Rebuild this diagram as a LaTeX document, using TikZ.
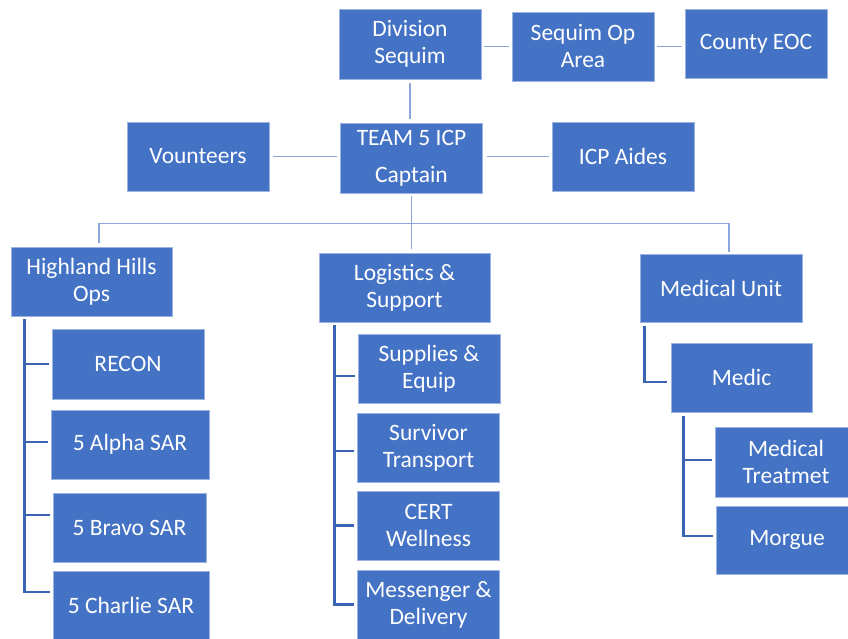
\documentclass[tikz,border=0pt]{standalone}
\usepackage{fontspec}
\setmainfont{Carlito}
\usepackage{tikz}
\usetikzlibrary{calc,positioning}
\definecolor{boxblue}{HTML}{4472C4}
\definecolor{boxedge}{HTML}{9DB4E0}
\definecolor{linkblue}{HTML}{8AA6DA}
\definecolor{barblue}{HTML}{3A63B2}

\begin{document}
\begin{tikzpicture}[x=1pt,y=-1pt, bx/.style={fill=boxblue, draw=boxedge, line width=0.8pt, text=white, align=center,
    minimum width=142pt, minimum height=69pt, inner sep=2pt, font=\fontsize{23.5}{27}\selectfont},
  ln/.style={draw=linkblue, line width=1.6pt}, br/.style={draw=barblue, line width=2.8pt}]
  \clip (0,0) rectangle (848,639);
  \fill[white] (0,0) rectangle (848,639);
  % top rows
  \node[bx, minimum height=70pt] (div) at (410,44) {Division\\Sequim};
  \node[bx] (seq) at (583,46.5) {Sequim Op\\Area};
  \node[bx] (eoc) at (756,44) {County EOC};
  \node[bx, minimum height=70pt] (team) at (411.5,158) {TEAM 5 ICP\\[10pt]Captain};
  \node[bx] (vol) at (198,156.5) {Vounteers};
  \node[bx] (aid) at (623,156.5) {ICP Aides};
  % sections
  \node[bx, minimum width=161pt] (hho) at (91.5,281.5) {Highland Hills\\Ops};
  \node[bx, minimum width=171pt] (log) at (404.5,287.5) {Logistics \&\\Support};
  \node[bx, minimum width=162pt, minimum height=68pt] (med) at (721,288) {Medical Unit};
  \node[bx, minimum width=152pt, minimum height=70pt] (recon) at (128,364) {RECON};
  \node[bx, minimum width=158pt] (alpha) at (130,444.5) {5 Alpha SAR};
  \node[bx, minimum width=153pt] (bravo) at (129.5,527.5) {5 Bravo SAR};
  \node[bx, minimum width=156pt] (charlie) at (131,605.5) {5 Charlie SAR};
  \node[bx] (sup) at (429,368.5) {Supplies \&\\Equip};
  \node[bx] (surv) at (428.5,447.5) {Survivor\\Transport};
  \node[bx] (cert) at (428.5,525.5) {CERT\\Wellness};
  \node[bx] (msg) at (428.5,604.5) {Messenger \&\\Delivery};
  \node[bx, minimum width=141pt] (medic) at (741.5,377.5) {Medic};
  \node[bx, minimum height=70pt] (treat) at (786,462) {Medical\\Treatmet};
  \node[bx, minimum height=68pt] (morgue) at (787,540) {Morgue};
  % links
  \draw[ln, shorten <=3pt, shorten >=3pt] (div.east |- seq.west) -- (seq.west);
  \draw[ln, shorten <=3pt, shorten >=3pt] (seq.east) -- (seq.east -| eoc.west);
  \draw[ln, shorten <=4pt, shorten >=4pt] (div.south) -- (div.south |- team.north);
  \draw[ln, shorten <=4pt, shorten >=3pt] (vol.east) -- (vol.east -| team.west);
  \draw[ln, shorten <=4pt, shorten >=3pt] (team.east |- aid.west) -- (aid.west);
  \coordinate (bus) at ($(team.south)+(0,30)$);
  \draw[ln, shorten <=3pt, shorten >=4pt] (team.south) -- (team.south |- log.north);
  \draw[ln, shorten <=4pt, shorten >=2pt] ([xshift=7.5pt]hho.north) |- (bus) -| ([xshift=8pt]med.north);
  % brackets
  \coordinate (hb) at ([xshift=13.5pt,yshift=-3pt]hho.south west);
  \foreach \c/\d in {recon/0,alpha/2.5,bravo/12.5,charlie/13.5}
    \draw[br] (hb) |- ([xshift=-3pt,yshift=\d pt]\c.west);
  \coordinate (lb) at ([xshift=16pt,yshift=-3pt]log.south west);
  \foreach \c/\d in {sup/-7.5,surv/-3.5,cert/0,msg/0}
    \draw[br] (lb) |- ([xshift=-3pt,yshift=\d pt]\c.west);
  \coordinate (mb) at ([xshift=5pt,yshift=-4pt]med.south west);
  \draw[br] (mb) |- ([xshift=-4pt,yshift=-4.5pt]medic.west);
  \coordinate (cb) at ([xshift=13pt,yshift=-4pt]medic.south west);
  \foreach \c/\d in {treat/2,morgue/4}
    \draw[br] (cb) |- ([xshift=-3pt,yshift=\d pt]\c.west);
\end{tikzpicture}
\end{document}
